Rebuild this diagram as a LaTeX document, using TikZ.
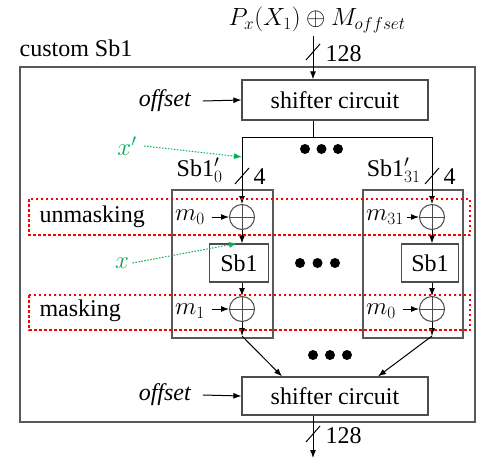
\documentclass[tikz,border=0pt]{standalone}
\usepackage{fontspec}
\setmainfont{Liberation Serif}
\usetikzlibrary{arrows.meta}
\definecolor{xgreen}{RGB}{0,176,80}
\begin{document}
\begin{tikzpicture}[x=1pt,y=-1pt,font=\fontsize{24}{28}\selectfont,
    arr/.style={-{Latex[length=8pt,width=6pt]},line width=1pt},
    wire/.style={line width=1pt},
    box/.style={draw=black!70,line width=1.2pt,fill=white,inner sep=0pt},
    xor/.style={circle,draw=black!70,line width=1pt,fill=white,minimum size=25pt,inner sep=0pt,
      path picture={\draw[black!70,line width=1pt] (path picture bounding box.north) -- (path picture bounding box.south)
        (path picture bounding box.west) -- (path picture bounding box.east);}},
    frame/.style={draw=black!65,line width=1.2pt},
    mask/.style={draw=red,line width=2.5pt,dash pattern=on 2.5pt off 2.5pt},
    hint/.style={draw=xgreen,line width=1pt,dash pattern=on 1.5pt off 1.5pt,-{Latex[length=8pt,width=6pt]}},
    dot/.style={circle,fill=black,inner sep=0pt,minimum size=10pt}]
  \useasboundingbox (0,0) rectangle (495,466);
  \draw[frame] (20,67) rectangle (475,422);
  \node (title) at (76,48) {custom Sb1};
  \draw[frame] (172,190) rectangle (273,338);
  \draw[frame] (363,190) rectangle (463,338);
  \node (top) at (317,20) {$P_x(X_1)\oplus M_{offset}$};
  \node[box,minimum width=186pt,minimum height=40pt] (sh1) at (335,100) {shifter circuit};
  \node[box,minimum width=186pt,minimum height=38pt] (sh2) at (335,396) {shifter circuit};
  \node (off1) at (165,101) {\textit{offset}};
  \node (off2) at (165,395) {\textit{offset}};
  \draw[arr] ([xshift=8pt]off1.east) -- (sh1.west);
  \draw[arr] ([xshift=8pt]off2.east) -- (sh2.west);
  \coordinate (inx) at (313,0);
  \coordinate (out) at (313,458);
  \draw[arr] (top.south -| inx) -- (sh1.north -| inx);
  \draw[wire] (306,60) -- (320,44);
  \node[anchor=west] (w1) at (322,54) {128};
  \draw[arr] (sh2.south -| inx) -- (out);
  \draw[wire] (306,442) -- (320,426);
  \node[anchor=west] (w2) at (322,436) {128};
  \coordinate (busL) at (242,137);
  \coordinate (busR) at (432,137);
  \draw[wire] (sh1.south -| inx) -- (inx |- busL);
  \draw[wire] (busL) -- (busR);
  \foreach \d in {0,1,2}
    \node[dot] (dt\d) at (305+16.5*\d,149) {};
  % left lane
  \node[xor] (u0) at (242,217) {};
  \node[box,minimum width=59pt,minimum height=38pt] (s0) at (239,263) {Sb1};
  \node[xor] (k0) at (242,309) {};
  \node (m0) at (190,217) {$m_0$};
  \node (m1) at (190,311) {$m_1$};
  \coordinate (o0) at (242,336);
  \draw[arr] (busL) -- (u0.north);
  \draw[arr] ([xshift=4pt]m0.east) -- (u0.west);
  \draw[arr] (u0.south) -- (u0.south |- s0.north);
  \draw[arr] (s0.south -| k0) -- (k0.north);
  \draw[arr] ([xshift=4pt]m1.east |- k0) -- (k0.west);
  \draw[arr] (k0.south) -- (o0);
  \draw[arr] (o0) -- ([xshift=-53pt]sh2.north);
  \node[anchor=east] (lab0) at (226,170) {Sb1$'_0$};
  \draw[wire] (235,184) -- (249,168);
  \node[anchor=west] (b0) at (250,177) {4};
  % right lane
  \node[xor] (u1) at (432,217) {};
  \node[box,minimum width=57pt,minimum height=38pt] (s1) at (430,263) {Sb1};
  \node[xor] (k1) at (432,309) {};
  \node (m31) at (385,217) {$m_{31}$};
  \node (m2) at (381,311) {$m_0$};
  \coordinate (o1) at (432,336);
  \draw[arr] (busR) -- (u1.north);
  \draw[arr] (m31.east) -- (u1.west);
  \draw[arr] (u1.south) -- (u1.south |- s1.north);
  \draw[arr] (s1.south -| k1) -- (k1.north);
  \draw[arr] ([xshift=4pt]m2.east |- k1) -- (k1.west);
  \draw[arr] (k1.south) -- (o1);
  \draw[arr] (o1) -- ([xshift=43pt]sh2.north);
  \node[anchor=east] (lab1) at (424,170) {Sb1$'_{31}$};
  \draw[wire] (425,184) -- (439,168);
  \node[anchor=west] (b1) at (440,177) {4};
  \foreach \d in {0,1,2}
    \node[dot] (dm\d) at (300+17.5*\d,263) {};
  \foreach \d in {0,1,2}
    \node[dot] (db\d) at (313+17*\d,355) {};
  % masking bands
  \draw[mask] (29,199) rectangle (470,235);
  \draw[mask] (29,295) rectangle (470,330);
  \node[anchor=west] (um) at (36,217) {unmasking};
  \node[anchor=west] (ma) at (36,311) {masking};
  % hints
  \node[text=xgreen] (xp) at (127,146) {$x'$};
  \draw[hint] ([xshift=4pt]xp.east) -- ([yshift=-20pt]busL);
  \node[text=xgreen] (xv) at (122,263) {$x$};
  \draw[hint] (xv.east) -- ([xshift=-2pt]s0.north);
\end{tikzpicture}
\end{document}
